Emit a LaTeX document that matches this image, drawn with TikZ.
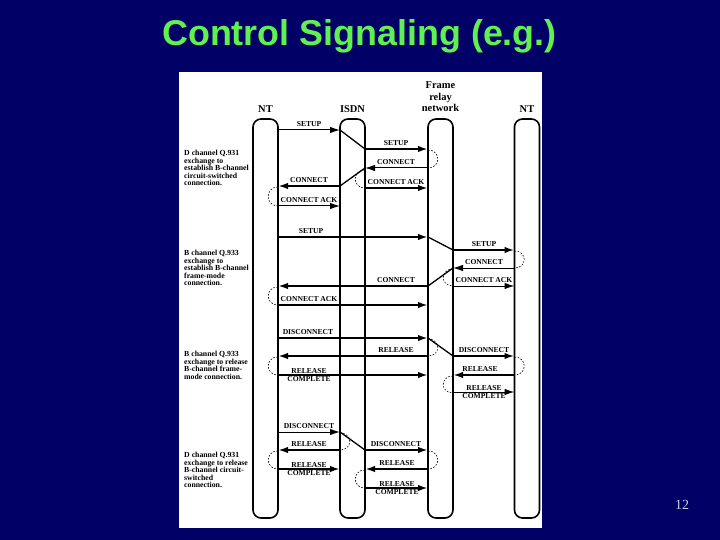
\documentclass[tikz,border=0pt]{standalone}
\usepackage{fontspec}
\setmainfont{Liberation Serif}
\newfontfamily\ttlfamily{Liberation Sans}
\usetikzlibrary{arrows.meta}
\definecolor{bgblue}{RGB}{0,0,102}
\definecolor{ttlgreen}{RGB}{96,240,80}
\definecolor{pgnum}{RGB}{200,210,230}
\newcommand\labfont{\fontsize{7.6}{8}\selectfont\bfseries}
\newcommand\notefont{\fontsize{7.8}{7.6}\selectfont\bfseries}
\newcommand\headfont{\fontsize{10.5}{12}\selectfont\bfseries}
\tikzset{
  lifeline/.style={draw, line width=1.6bp, rounded corners=8bp, minimum width=25bp, minimum height=399bp, inner sep=0pt, outer sep=0pt},
  msgthin/.style={line width=1bp, -{Latex[length=10bp,width=6.5bp]}},
  msgthick/.style={line width=2.1bp, -{Latex[length=10bp,width=6.5bp]}},
  diagl/.style={line width=1.3bp},
  loopd/.style={line width=0.6bp, dash pattern=on 1.6bp off 1.6bp},
  lab/.style={font=\labfont, inner sep=0pt, anchor=base},
  note/.style={font=\notefont, align=left, anchor=north west, inner sep=0pt},
  head/.style={font=\headfont, inner sep=0pt, anchor=base}
}
\begin{document}
\begin{tikzpicture}[x=1bp,y=-1bp]
\useasboundingbox (0,0) rectangle (720,540);
\fill[bgblue] (0,0) rectangle (720,540);
\fill[white] (179,72) rectangle (542,528);
\node[font=\ttlfamily\bfseries\fontsize{36}{40}\selectfont, text=ttlgreen, anchor=base, inner sep=0pt] (title) at (359.5,46) {Control Signaling (e.g.)};
\node[font=\fontsize{14}{16}\selectfont, text=pgnum, anchor=base, inner sep=0pt] (page) at (682,509) {12};

% lifelines
\node[lifeline] (ntl) at (265.5,318.5) {};
\node[lifeline] (isdn) at (352.5,318.5) {};
\node[lifeline] (fr) at (440.5,318.5) {};
\node[lifeline] (ntr) at (527,318.5) {};

% headers
\node[head] (hntl) at (265.5,113) {NT};
\node[head] (hisdn) at (352.5,113) {ISDN};
\node[font=\headfont, inner sep=0pt, anchor=north, align=center] (hfr) at (440.5,81) {Frame\\relay\\network};
\node[head] (hntr) at (527,113) {NT};

% notes
\node[note] (n1) at (184,150) {D channel Q.931\\exchange to\\establish B-channel\\circuit-switched\\connection.};
\node[note] (n2) at (184,250) {B channel Q.933\\exchange to\\establish B-channel\\frame-mode\\connection.};
\node[note] (n3) at (184,351) {B channel Q.933\\exchange to release\\B-channel frame-\\mode connection.};
\node[note] (n4) at (184,452) {D channel Q.931\\exchange to release\\B-channel circuit-\\switched\\connection.};

% ---- D channel setup
\draw[msgthin] (ntl.east |- 0,130) -- (isdn.west |- 0,130);
\node[lab] (l1) at (309,126.5) {SETUP};
\draw[diagl] (isdn.west |- 0,130) -- (isdn.east |- 0,149);
\draw[msgthick] (isdn.east |- 0,149) -- (fr.west |- 0,149);
\node[lab] (l2) at (396,145.5) {SETUP};
\draw[loopd] (fr.west |- 0,150) .. controls +(13,0) and +(13,0) .. (fr.west |- 0,168);
\draw[msgthin] (fr.west |- 0,168) -- (isdn.east |- 0,168);
\node[lab] (l3) at (396,164.5) {CONNECT};
\draw[diagl] (isdn.east |- 0,168) -- (isdn.west |- 0,186);
\draw[msgthick] (isdn.west |- 0,186) -- (ntl.east |- 0,186);
\node[lab] (l4) at (309,182.5) {CONNECT};
\draw[loopd] (isdn.east |- 0,170) .. controls +(-13,0) and +(-13,0) .. (isdn.east |- 0,188);
\draw[msgthick] (isdn.east |- 0,188) -- (fr.west |- 0,188);
\node[lab] (l5) at (396,184.5) {CONNECT ACK};
\draw[loopd] (ntl.east |- 0,187) .. controls +(-13,0) and +(-13,0) .. (ntl.east |- 0,206);
\draw[msgthin] (ntl.east |- 0,206) -- (isdn.west |- 0,206);
\node[lab] (l6) at (309,202.5) {CONNECT ACK};

% ---- B channel setup
\draw[msgthick] (ntl.east |- 0,237) -- (fr.west |- 0,237);
\node[lab] (l7) at (311,233.5) {SETUP};
\draw[diagl] (fr.west |- 0,237) -- (fr.east |- 0,250);
\draw[msgthick] (fr.east |- 0,250) -- (ntr.west |- 0,250);
\node[lab] (l8) at (484,246.5) {SETUP};
\draw[loopd] (ntr.west |- 0,251) .. controls +(13,0) and +(13,0) .. (ntr.west |- 0,268);
\draw[msgthin] (ntr.west |- 0,268) -- (fr.east |- 0,268);
\node[lab] (l9) at (484,264.5) {CONNECT};
\draw[diagl] (fr.east |- 0,268) -- (fr.west |- 0,286);
\draw[msgthick] (fr.west |- 0,286) -- (ntl.east |- 0,286);
\node[lab] (l10) at (396,282.5) {CONNECT};
\draw[loopd] (fr.east |- 0,269) .. controls +(-13,0) and +(-13,0) .. (fr.east |- 0,286);
\draw[msgthin] (fr.east |- 0,286) -- (ntr.west |- 0,286);
\node[lab] (l11) at (484,282.5) {CONNECT ACK};
\draw[loopd] (ntl.east |- 0,287) .. controls +(-13,0) and +(-13,0) .. (ntl.east |- 0,305);
\draw[msgthick] (ntl.east |- 0,305) -- (fr.west |- 0,305);
\node[lab] (l12) at (309,301.5) {CONNECT ACK};

% ---- B channel release
\draw[msgthick] (ntl.east |- 0,338) -- (fr.west |- 0,338);
\node[lab] (l13) at (308,334.5) {DISCONNECT};
\draw[diagl] (fr.west |- 0,338) -- (fr.east |- 0,356);
\draw[msgthick] (fr.east |- 0,356) -- (ntr.west |- 0,356);
\node[lab] (l14) at (484,352.5) {DISCONNECT};
\draw[loopd] (fr.west |- 0,339) .. controls +(13,0) and +(13,0) .. (fr.west |- 0,356);
\draw[msgthick] (fr.west |- 0,356) -- (ntl.east |- 0,356);
\node[lab] (l15) at (396,352.5) {RELEASE};
\draw[loopd] (ntl.east |- 0,357) .. controls +(-13,0) and +(-13,0) .. (ntl.east |- 0,375);
\draw[msgthick] (ntl.east |- 0,375) -- (fr.west |- 0,375);
\node[lab] (l16) at (309,373) {RELEASE};
\node[lab] (l16b) at (309,381.5) {COMPLETE};
\draw[loopd] (ntr.west |- 0,357) .. controls +(13,0) and +(13,0) .. (ntr.west |- 0,375);
\draw[msgthick] (ntr.west |- 0,375) -- (fr.east |- 0,375);
\node[lab] (l17) at (480,371.5) {RELEASE};
\draw[loopd] (fr.east |- 0,376) .. controls +(-13,0) and +(-13,0) .. (fr.east |- 0,393);
\draw[msgthin] (fr.east |- 0,392) -- (ntr.west |- 0,392);
\node[lab] (l18) at (484,390) {RELEASE};
\node[lab] (l18b) at (484,398.5) {COMPLETE};

% ---- D channel release
\draw[msgthin] (ntl.east |- 0,432) -- (isdn.west |- 0,432);
\node[lab] (l19) at (309,428.5) {DISCONNECT};
\draw[diagl] (isdn.west |- 0,432) -- (isdn.east |- 0,450);
\draw[msgthick] (isdn.east |- 0,450) -- (fr.west |- 0,450);
\node[lab] (l20) at (396,446.5) {DISCONNECT};
\draw[loopd] (isdn.west |- 0,433) .. controls +(13,0) and +(13,0) .. (isdn.west |- 0,450);
\draw[msgthick] (isdn.west |- 0,450) -- (ntl.east |- 0,450);
\node[lab] (l21) at (309,446.5) {RELEASE};
\draw[loopd] (ntl.east |- 0,451) .. controls +(-13,0) and +(-13,0) .. (ntl.east |- 0,469);
\draw[msgthick] (ntl.east |- 0,469) -- (isdn.west |- 0,469);
\node[lab] (l22) at (309,467) {RELEASE};
\node[lab] (l22b) at (309,475.5) {COMPLETE};
\draw[loopd] (fr.west |- 0,451) .. controls +(13,0) and +(13,0) .. (fr.west |- 0,469);
\draw[msgthick] (fr.west |- 0,469) -- (isdn.east |- 0,469);
\node[lab] (l23) at (397,465.5) {RELEASE};
\draw[loopd] (isdn.east |- 0,470) .. controls +(-13,0) and +(-13,0) .. (isdn.east |- 0,488);
\draw[msgthick] (isdn.east |- 0,488) -- (fr.west |- 0,488);
\node[lab] (l24) at (397,486) {RELEASE};
\node[lab] (l24b) at (397,494.5) {COMPLETE};
\end{tikzpicture}
\end{document}
